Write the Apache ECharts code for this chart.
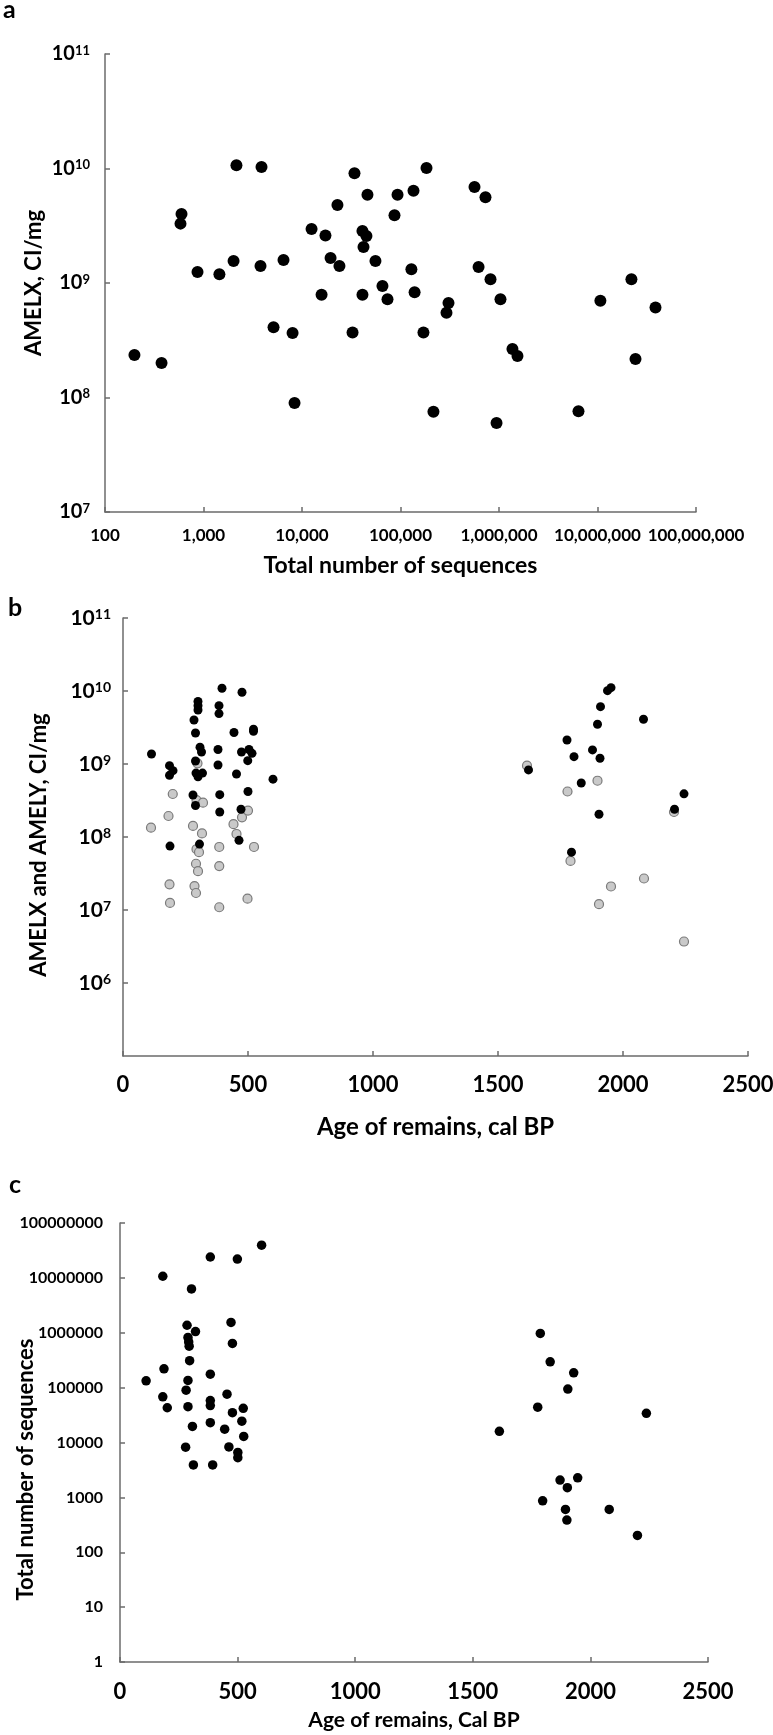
<!DOCTYPE html>
<html><head><meta charset="utf-8">
<script src="https://cdn.jsdelivr.net/npm/echarts@6/dist/echarts.min.js"></script>
<style>html,body{margin:0;padding:0;background:#fff}#c{width:773px;height:1735px}</style>
</head><body><div id="c"></div>
<script>
// ---- Panel a: AMELX vs total number of sequences ----
const seqA = [2160, 3880, 34100, 183600, 564000, 729000, 135500, 93300, 46200, 22900,
  86900, 598, 584, 12500, 17300, 41100, 45100, 42100, 19500, 55700,
  6490, 2020, 3790, 24000, 129000, 620000, 869, 1450, 820000, 22100000,
  15800, 41100, 65600, 73800, 139000, 307000, 293000, 1035000, 10700000, 38800000,
  5140, 8020, 32600, 171000, 199, 375, 1370000, 1540000, 24300000, 8400,
  216000, 6410000, 944000];
const amelxA = [1.07e10, 1.03e10, 9.1e9, 1.01e10, 6.9e9, 5.6e9, 6.4e9, 5.9e9, 5.9e9, 4.8e9,
  3.9e9, 4.0e9, 3.3e9, 2.96e9, 2.6e9, 2.84e9, 2.57e9, 2.06e9, 1.65e9, 1.56e9,
  1.59e9, 1.56e9, 1.41e9, 1.41e9, 1.32e9, 1.38e9, 1.25e9, 1.19e9, 1.08e9, 1.08e9,
  7.9e8, 7.9e8, 9.4e8, 7.2e8, 8.3e8, 6.7e8, 5.5e8, 7.2e8, 7.0e8, 6.1e8,
  4.1e8, 3.66e8, 3.7e8, 3.7e8, 2.35e8, 2.0e8, 2.65e8, 2.3e8, 2.17e8, 8.96e7,
  7.5e7, 7.6e7, 6.0e7];

// ---- Panel b: AMELX (black) and AMELY (grey) vs age ----
const ageBx = [114, 186, 200, 186, 284, 300, 300, 300, 290, 308, 314, 290, 292, 318, 300,
  396, 384, 384, 380, 380, 476, 444, 522, 522, 474, 504, 516, 499, 454, 600, 500,
  280, 290, 387, 387, 472, 188, 306, 464,
  1622, 1776, 1804, 1878, 1908, 1833, 1898, 1910, 1938, 1952, 2082, 1904, 2244, 2206, 1794];
const amelxB = [1.37e9, 9.5e8, 8.1e8, 7.0e8, 4.0e9, 7.2e9, 6.3e9, 5.5e9, 2.66e9, 1.7e9, 1.46e9, 1.1e9, 7.5e8, 7.5e8, 6.7e8,
  1.09e10, 6.3e9, 4.9e9, 1.58e9, 9.7e8, 9.6e9, 2.7e9, 3.0e9, 2.8e9, 1.46e9, 1.58e9, 1.4e9, 1.11e9, 7.3e8, 6.2e8, 4.2e8,
  3.76e8, 2.7e8, 3.8e8, 2.2e8, 2.4e8, 7.5e7, 8.0e7, 9.0e7,
  8.3e8, 2.13e9, 1.26e9, 1.56e9, 1.2e9, 5.5e8, 3.5e9, 6.1e9, 1.01e10, 1.11e10, 4.1e9, 2.05e8, 3.9e8, 2.4e8, 6.2e7];
const ageBy = [298, 1616, 1898, 199, 182, 112, 280, 294, 320, 316, 294, 304, 292, 300, 186, 286, 292, 188,
  385, 385, 385, 442, 454, 476, 500, 524, 498,
  1778, 1790, 1904, 1952, 2084, 2204, 2244];
const amelyB = [1.02e9, 9.5e8, 5.9e8, 3.88e8, 1.94e8, 1.34e8, 1.42e8, 3.2e8, 2.95e8, 1.12e8, 6.8e7, 6.2e7, 4.3e7, 3.4e7, 2.25e7, 2.13e7, 1.71e7, 1.25e7,
  1.09e7, 7.3e7, 4.0e7, 1.5e8, 1.1e8, 1.86e8, 2.3e8, 7.3e7, 1.43e7,
  4.2e8, 4.7e7, 1.2e7, 2.1e7, 2.7e7, 2.2e8, 3.7e6];

// ---- Panel c: total number of sequences vs age ----
const ageC = [602, 384, 499, 182, 304, 285, 472, 321, 289, 292, 294, 478, 296, 187, 384, 111, 289, 281, 182, 455,
  201, 289, 384, 384, 524, 478, 308, 384, 445, 518, 526, 279, 463, 501, 501, 312, 394,
  1787, 1829, 1929, 1904, 1776, 2238, 1613, 1871, 1946, 1902, 1797, 1894, 2080, 1900, 2200];
const seqC = [3.94e7, 2.4e7, 2.2e7, 1.07e7, 6.3e6, 1.37e6, 1.54e6, 1.05e6, 8.2e5, 6.8e5, 5.7e5, 6.4e5, 3.1e5, 2.2e5, 1.76e5, 1.33e5, 1.35e5, 9.0e4, 6.8e4, 7.6e4,
  4.3e4, 4.5e4, 5.8e4, 4.7e4, 4.2e4, 3.5e4, 1.96e4, 2.3e4, 1.75e4, 2.45e4, 1.29e4, 8.2e3, 8.3e3, 6.6e3, 5.3e3, 3.9e3, 3.9e3,
  9.7e5, 2.95e5, 1.86e5, 9.4e4, 4.4e4, 3.4e4, 1.6e4, 2.07e3, 2.27e3, 1.5e3, 867, 604, 604, 386, 203];

const xTicksB = ['0', '500', '1000', '1500', '2000', '2500'];
const titleA = 'Total number of sequences', yTitleA = 'AMELX, CI/mg';
const titleB = 'Age of remains, cal BP', yTitleB = 'AMELX and AMELY, CI/mg';
const titleC = 'Age of remains, Cal BP', yTitleC = 'Total number of sequences';
const panelLetters = ['a', 'b', 'c'];

const FONT = 'Lato';
const AX = '#6b6b6b';
const zip = (xs, ys) => xs.map((x, i) => [x, ys[i]]);
const axisLine = { show: true, lineStyle: { color: AX, width: 1.5 } };
const axisTick = { show: true, inside: true, length: 5, lineStyle: { color: AX, width: 1.5 } };
const lbl = (size, margin, extra) => Object.assign({ color: '#000', fontWeight: 'bold', fontFamily: FONT, fontSize: size, margin: margin }, extra || {});
const nameStyle = (size, extra) => Object.assign({ color: '#000', fontWeight: 'bold', fontFamily: FONT, fontSize: size, lineHeight: size }, extra || {});
const expo = v => Math.round(Math.log10(v));
const supRich = (b, s) => ({ b: { fontSize: b, fontWeight: 'bold', fontFamily: FONT, color: '#000' },
  s: { fontSize: s, fontWeight: 'bold', fontFamily: FONT, color: '#000', verticalAlign: 'top', padding: [0, 0, 6, 0] } });
const common = { axisLine, axisTick, splitLine: { show: false }, nameMoveOverlap: false, nameLocation: 'middle' };
const gridBase = { containLabel: false, outerBoundsMode: 'none' };

const el = document.getElementById('c');
const chart = echarts.init(el, null, { renderer: 'canvas', width: 773, height: 1735 });
chart.setOption({
  animation: false,
  backgroundColor: '#fff',
  grid: [
    Object.assign({ left: 105, top: 54, width: 591, height: 458 }, gridBase),
    Object.assign({ left: 123, top: 618, width: 625, height: 438 }, gridBase),
    Object.assign({ left: 120, top: 1223, width: 588, height: 439 }, gridBase)
  ],
  xAxis: [
    Object.assign({ gridIndex: 0, type: 'log', logBase: 10, min: 100, max: 1e8,
      axisLabel: lbl(17, 15, { formatter: v => Math.round(v).toLocaleString('en-US') }),
      name: titleA, nameGap: 42, nameTextStyle: nameStyle(23) }, common),
    Object.assign({ gridIndex: 1, type: 'value', min: 0, max: 2500, interval: 500,
      axisLabel: lbl(22, 18, { formatter: (v, i) => xTicksB[i] }),
      name: titleB, nameGap: 59, nameTextStyle: nameStyle(24) }, common),
    Object.assign({ gridIndex: 2, type: 'value', min: 0, max: 2500, interval: 500,
      axisLabel: lbl(22, 19, { formatter: (v, i) => xTicksB[i] }),
      name: titleC, nameGap: 48, nameTextStyle: nameStyle(21) }, common)
  ],
  yAxis: [
    Object.assign({ gridIndex: 0, type: 'log', logBase: 10, min: 1e7, max: 1e11,
      axisLabel: lbl(20, 15, { formatter: v => '{b|10}{s|' + expo(v) + '}', rich: supRich(20, 13) }),
      name: yTitleA, nameGap: 60, nameTextStyle: nameStyle(22) }, common),
    Object.assign({ gridIndex: 1, type: 'log', logBase: 10, min: 1e5, max: 1e11,
      axisLabel: lbl(21, 12, { showMinLabel: false, formatter: v => '{b|10}{s|' + expo(v) + '}', rich: supRich(21, 14) }),
      name: yTitleB, nameGap: 73, nameTextStyle: nameStyle(22, { padding: [0, 16, 0, 0] }) }, common),
    Object.assign({ gridIndex: 2, type: 'log', logBase: 10, min: 1, max: 1e8,
      axisLabel: lbl(16, 17, { formatter: v => String(Math.round(v)) }),
      name: yTitleC, nameGap: 83, nameTextStyle: nameStyle(22, { padding: [0, 54, 0, 0] }) }, common)
  ],
  series: [
    { type: 'scatter', xAxisIndex: 0, yAxisIndex: 0, data: zip(seqA, amelxA), symbolSize: 12,
      itemStyle: { color: '#000', opacity: 1 } },
    { type: 'scatter', xAxisIndex: 1, yAxisIndex: 1, data: zip(ageBy, amelyB), symbolSize: 9,
      itemStyle: { color: '#c9c9c9', borderColor: '#7a7a7a', borderWidth: 1.2, opacity: 1 } },
    { type: 'scatter', xAxisIndex: 1, yAxisIndex: 1, data: zip(ageBx, amelxB), symbolSize: 9,
      itemStyle: { color: '#000', opacity: 1 } },
    { type: 'scatter', xAxisIndex: 2, yAxisIndex: 2, data: zip(ageC, seqC), symbolSize: 9.5,
      itemStyle: { color: '#000', opacity: 1 } }
  ],
  graphic: [
    { type: 'text', left: 3, top: -3, style: { text: panelLetters[0], font: 'bold 25px Lato', fill: '#000' } },
    { type: 'text', left: 8, top: 595, style: { text: panelLetters[1], font: 'bold 25px Lato', fill: '#000' } },
    { type: 'text', left: 9, top: 1172, style: { text: panelLetters[2], font: 'bold 25px Lato', fill: '#000' } }
  ]
});
</script>
</body></html>
